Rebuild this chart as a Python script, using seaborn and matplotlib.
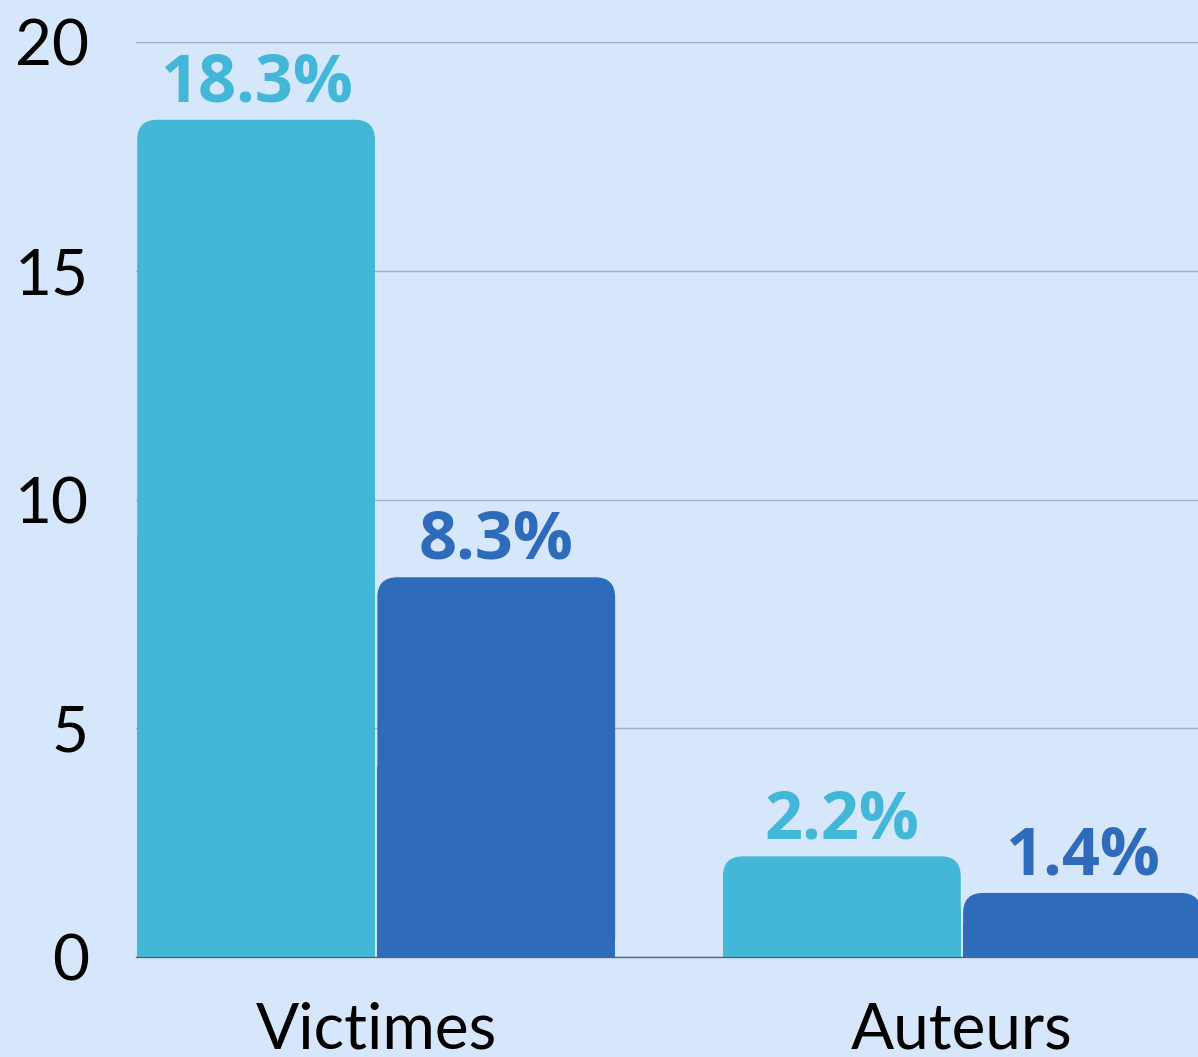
import pandas as pd
import seaborn as sns
import matplotlib.pyplot as plt
from matplotlib.patches import FancyBboxPatch, Rectangle

# data
categories = ['Victimes', 'Auteurs']
groups = ['Groupe 1', 'Groupe 2']
values_g1 = [18.3, 2.2]
values_g2 = [8.3, 1.4]
colors = ['#43b7d7', '#2e6bba']
bg = '#d6e7fc'

df = pd.DataFrame({
    'categorie': categories * 2,
    'groupe': [groups[0]] * 2 + [groups[1]] * 2,
    'valeur': values_g1 + values_g2,
})

sns.set_style('white')
plt.rcParams['font.family'] = ['Lato', 'DejaVu Sans']

W, H = 1198, 1057
fig = plt.figure(figsize=(W / 100, H / 100), dpi=100, facecolor=bg)
ax = fig.add_axes([136 / W, 1 - 957 / H, (W - 136) / W, (957 - 42) / H])
ax.set_facecolor(bg)

sns.barplot(data=df, x='categorie', y='valeur', hue='groupe', palette=colors,
            width=0.82, saturation=1, legend=False, ax=ax)

ax.set_xlim(-0.41, 1.403)
ax.set_ylim(0, 20)
ax.set_yticks([0, 5, 10, 15, 20])
ax.yaxis.grid(True, color='#9fb0c6', linewidth=1)
ax.set_axisbelow(True)
for s in ['left', 'right', 'top']:
    ax.spines[s].set_visible(False)
ax.spines['bottom'].set_color('#5a6470')
ax.spines['bottom'].set_linewidth(1)
ax.tick_params(axis='y', length=0, pad=34, labelsize=46, labelcolor='black')
ax.tick_params(axis='x', length=0, pad=32, labelsize=46, labelcolor='black')
ax.set_xlabel('')
ax.set_ylabel('')

# rounded tops
x_px = ax.get_window_extent().width / (1.403 + 0.41)
y_px = ax.get_window_extent().height / 20
r_px = 20
aspect = x_px / y_px
for cont, vals, col in zip(ax.containers, [values_g1, values_g2], colors):
    for p, v in zip(cont.patches, vals):
        x, w, h = p.get_x(), p.get_width(), p.get_height()
        p.set_visible(False)
        gap = 1.2 / x_px
        r = r_px / x_px
        ax.add_patch(FancyBboxPatch((x + gap, 0), w - 2 * gap, h,
                                    boxstyle=f'round,pad=0,rounding_size={r}',
                                    mutation_aspect=aspect, facecolor=col,
                                    edgecolor='none', zorder=2))
        ax.add_patch(Rectangle((x + gap, 0), w - 2 * gap, h / 2,
                               facecolor=col, edgecolor='none', zorder=2))
        ax.text(x + w / 2, h + 0.05, f'{v}%', ha='center', va='bottom',
                color=col, fontsize=48, fontweight='bold',
                family=['Open Sans', 'DejaVu Sans'])

fig.savefig('out.png', dpi=100, facecolor=bg)
